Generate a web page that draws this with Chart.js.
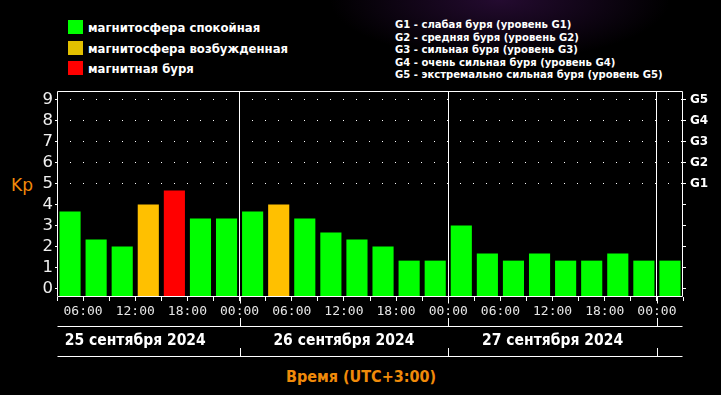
<!DOCTYPE html>
<html lang="ru">
<head>
<meta charset="utf-8">
<title>Kp-индекс</title>
<script src="https://cdn.jsdelivr.net/npm/chart.js@4.4.1/dist/chart.umd.min.js"></script>
<style>
  html, body { margin: 0; padding: 0; }
  body {
    width: 721px; height: 395px; overflow: hidden; position: relative;
    background: #000 radial-gradient(ellipse 170px 60px at 500px 0px, rgba(60, 18, 80, 0.6), rgba(0, 0, 0, 0) 100%);
  }
  #wrap { position: absolute; left: 0; top: 0; width: 721px; height: 395px; }
  .lg-row {
    position: absolute; left: 68px; height: 14px; line-height: 14px;
    color: #fff; font: bold 13px 'DejaVu Sans Condensed', 'DejaVu Sans', sans-serif;
    white-space: nowrap;
  }
  .lg-row span { display: inline-block; width: 15px; height: 14px; vertical-align: top; margin-right: 5px; }
  #glegend {
    position: absolute; left: 395px; top: 19px;
    color: #fff; font: bold 11.2px 'DejaVu Sans Condensed', 'DejaVu Sans', sans-serif;
    line-height: 12.5px; white-space: nowrap;
  }
  #kp {
    position: absolute; left: 11px; top: 175px;
    color: #f08a0a; font: 17px 'DejaVu Sans', sans-serif;
  }
  #xtitle {
    position: absolute; left: 0; width: 722px; top: 367px; text-align: center;
    color: #f08a0a; font: bold 16px 'DejaVu Sans Condensed', 'DejaVu Sans', sans-serif;
  }
</style>
</head>
<body>
<div id="legend"></div>
<div id="glegend"></div>
<div id="kp">Kp</div>
<div id="xtitle">Время (UTC+3:00)</div>
<div id="wrap"><canvas id="chart"></canvas></div>
<script>
// 3-hour intervals, 25.09 03:00 .. 28.09 03:00
const slotLabels = [
  '25.09 03-06', '25.09 06-09', '25.09 09-12', '25.09 12-15', '25.09 15-18', '25.09 18-21', '25.09 21-24',
  '26.09 00-03', '26.09 03-06', '26.09 06-09', '26.09 09-12', '26.09 12-15', '26.09 15-18', '26.09 18-21', '26.09 21-24',
  '27.09 00-03', '27.09 03-06', '27.09 06-09', '27.09 09-12', '27.09 12-15', '27.09 15-18', '27.09 18-21', '27.09 21-24',
  '28.09 00-03'
];
const kpValues = [
  3.67, 2.33, 2.0, 4.0, 4.67, 3.33, 3.33,
  3.67, 4.0, 3.33, 2.67, 2.33, 2.0, 1.33, 1.33,
  3.0, 1.67, 1.33, 1.67, 1.33, 1.33, 1.67, 1.33,
  1.33
];
// labels on interval boundaries (0..24)
const timeTicks = [
  '', '06:00', '', '12:00', '', '18:00', '', '00:00',
  '', '06:00', '', '12:00', '', '18:00', '', '00:00',
  '', '06:00', '', '12:00', '', '18:00', '', '00:00', ''
];
const dayLabels = ['25 сентября 2024', '26 сентября 2024', '27 сентября 2024'];
const kpTicks = [0, 1, 2, 3, 4, 5, 6, 7, 8, 9];
const gTicks = { 5: 'G1', 6: 'G2', 7: 'G3', 8: 'G4', 9: 'G5' };

const legendNames = ['магнитосфера спокойная', 'магнитосфера возбужденная', 'магнитная буря'];
const legendColors = ['#00ff00', '#e2c000', '#ff0000'];
const gLegend = [
  'G1 - слабая буря (уровень G1)',
  'G2 - средняя буря (уровень G2)',
  'G3 - сильная буря (уровень G3)',
  'G4 - очень сильная буря (уровень G4)',
  'G5 - экстремально сильная буря (уровень G5)'
];

const Y_MIN = -0.4, Y_MAX = 9.4;

function kpColor(v) {
  if (v >= 4.5) return '#ff0000';
  if (v >= 4) return '#ffc000';
  return '#00ff00';
}

// legends (html)
legendNames.forEach((name, i) => {
  const row = document.createElement('div');
  row.className = 'lg-row';
  row.style.top = (20 + i * 20.5) + 'px';
  row.innerHTML = `<span style="background:${legendColors[i]}"></span>${name}`;
  document.getElementById('legend').appendChild(row);
});
document.getElementById('glegend').innerHTML = gLegend.join('<br>');

const dayBoundaries = timeTicks.map((t, i) => t === '00:00' ? i : null).filter(v => v !== null);

// dotted G-levels, frame, day lines under the axis, date row
const dayRows = {
  id: 'dayRows',
  beforeDatasetsDraw(chart) {
    const { ctx, chartArea: a, scales: { g } } = chart;
    ctx.save();
    ctx.strokeStyle = '#ffffff';
    ctx.lineWidth = 1;
    ctx.setLineDash([1, 12]);
    ctx.beginPath();
    Object.keys(gTicks).forEach(k => {
      const y = Math.round(g.getPixelForValue(Number(k))) + 0.5;
      ctx.moveTo(a.left, y);
      ctx.lineTo(a.right, y);
    });
    ctx.stroke();
    ctx.restore();
  },
  afterDraw(chart) {
    const { ctx, chartArea: a, scales: { xt } } = chart;
    const L = Math.round(a.left) + 0.5, R = Math.round(a.right) - 0.5;
    const T = Math.round(a.top) + 0.5, B = Math.round(a.bottom) - 0.5;
    ctx.save();
    ctx.strokeStyle = '#fff';
    ctx.lineWidth = 1;
    ctx.beginPath();
    ctx.rect(L, T, R - L, B - T);
    // rows below the axis
    ctx.moveTo(L, 326.5); ctx.lineTo(R, 326.5);
    ctx.moveTo(L, 356.5); ctx.lineTo(R, 356.5);
    dayBoundaries.forEach(b => {
      const x = Math.round(xt.getPixelForValue(b)) + 0.5;
      ctx.moveTo(x, B); ctx.lineTo(x, B + 7);
      ctx.moveTo(x, 318); ctx.lineTo(x, 326.5);
      ctx.moveTo(x, 348); ctx.lineTo(x, 356.5);
    });
    ctx.stroke();

    ctx.fillStyle = '#fff';
    ctx.font = "bold 15.5px 'DejaVu Sans Condensed', 'DejaVu Sans', sans-serif";
    ctx.textBaseline = 'middle';
    ctx.textAlign = 'left';
    const starts = [dayBoundaries[0] - 8].concat(dayBoundaries);
    dayLabels.forEach((txt, i) => {
      const c = xt.getPixelForValue((starts[i] + starts[i + 1]) / 2);
      const w = ctx.measureText(txt).width;
      const x = Math.max(a.left + 4, c - w / 2);
      ctx.fillText(txt, x, 341);
    });
    ctx.restore();
  }
};

new Chart(document.getElementById('chart'), {
  type: 'bar',
  data: {
    labels: slotLabels,
    datasets: [{
      label: 'Kp',
      data: kpValues,
      base: Y_MIN,
      backgroundColor: kpValues.map(kpColor),
      borderWidth: 0,
      barPercentage: 0.81,
      categoryPercentage: 1,
      xAxisID: 'x',
      yAxisID: 'y'
    }]
  },
  options: {
    responsive: true,
    maintainAspectRatio: false,
    animation: false,
    layout: { padding: { top: 91, left: 0, right: 0, bottom: 0 } },
    plugins: { legend: { display: false }, tooltip: { enabled: false } },
    scales: {
      x: { type: 'category', display: false, offset: true },
      xt: {
        type: 'linear', position: 'bottom', min: 0, max: 24, offset: false,
        afterBuildTicks: s => { s.ticks = timeTicks.map((t, i) => ({ value: i })); },
        afterFit: s => { s.height = 98; },
        grid: {
          color: c => (c.tick && timeTicks[c.tick.value] === '00:00') ? '#ffffff' : 'rgba(0,0,0,0)',
          tickColor: '#ffffff', tickLength: 4, lineWidth: 1, offset: false
        },
        border: { display: false },
        ticks: {
          autoSkip: false, maxRotation: 0, padding: 3,
          color: '#e6e6e6',
          font: { family: 'DejaVu Sans Mono', size: 13 },
          callback: v => timeTicks[v] || ''
        }
      },
      y: {
        position: 'left', min: Y_MIN, max: Y_MAX,
        afterBuildTicks: s => { s.ticks = kpTicks.map(v => ({ value: v })); },
        afterFit: s => { s.width = 57; },
        grid: { drawOnChartArea: false, color: '#ffffff', tickLength: 2 },
        border: { display: false },
        ticks: { color: '#f0f0f0', padding: 2, font: { family: 'DejaVu Sans', size: 16.5 } }
      },
      g: {
        position: 'right', min: Y_MIN, max: Y_MAX,
        afterBuildTicks: s => { s.ticks = kpTicks.map(v => ({ value: v })); },
        afterFit: s => { s.width = 38; },
        grid: {
          color: c => (c.tick && gTicks[c.tick.value]) ? '#ffffff' : 'rgba(0,0,0,0)',
          tickColor: '#ffffff', tickLength: 3, lineWidth: 1
        },
        border: { display: false, dash: [1, 12] },
        ticks: {
          color: '#ffffff', padding: 4,
          font: { family: 'DejaVu Sans', size: 12, weight: 'bold' },
          callback: v => gTicks[v] || ''
        }
      }
    }
  },
  plugins: [dayRows]
});
</script>
</body>
</html>
